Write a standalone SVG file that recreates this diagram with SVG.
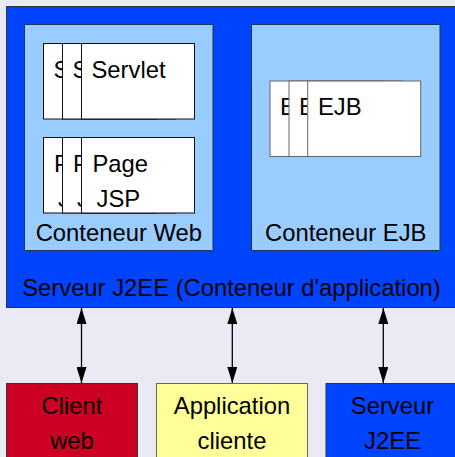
<svg xmlns="http://www.w3.org/2000/svg" width="455" height="457" viewBox="0 0 455 457">
<defs>
<style>
text{font-family:"Liberation Sans",Arial,sans-serif;font-size:23.8px;fill:#000}
.cont{fill:#99ccff;stroke:#223355;stroke-width:1}
.card{fill:#fff;stroke:#111;stroke-width:1}
.ejb{fill:#fff;stroke:#666;stroke-width:1}
.mid{text-anchor:middle}
.conn{stroke:#000;stroke-width:1.3;fill:none;marker-start:url(#ah);marker-end:url(#ah)}
</style>
<marker id="ah" viewBox="0 0 16 10" refX="16" refY="5" markerWidth="16" markerHeight="10" markerUnits="userSpaceOnUse" orient="auto-start-reverse">
<path d="M0,0 L16,5 L0,10 Z" fill="#000"/>
</marker>
<clipPath id="c1"><rect x="43.5" y="43.5" width="19" height="170"/></clipPath>
<clipPath id="c2"><rect x="62.5" y="43.5" width="19" height="170"/></clipPath>
<clipPath id="e1"><rect x="270" y="81" width="19" height="76"/></clipPath>
<clipPath id="e2"><rect x="289" y="81" width="18.7" height="76"/></clipPath>
</defs>
<rect x="0" y="0" width="455" height="457" fill="#eaeaf4"/>
<g id="serveur">
<rect x="6.5" y="6.5" width="460" height="301" fill="#0044ff" stroke="#333" stroke-width="1"/>
<text x="231.5" y="296" class="mid">Serveur J2EE (Conteneur d'application)</text>
</g>
<g id="conteneur-web">
<rect x="24.5" y="24.5" width="188.5" height="226" class="cont"/>
<text x="118.8" y="240.5" class="mid">Conteneur Web</text>
</g>
<g id="servlets">
<rect x="43.5" y="43.5" width="113" height="75.5" class="card"/>
<text x="53.5" y="77.5" clip-path="url(#c1)">Servlet</text>
<rect x="62.5" y="43.5" width="113" height="75.5" class="card"/>
<text x="72.5" y="77.5" clip-path="url(#c2)">Servlet</text>
<rect x="81.5" y="43.5" width="113" height="75.5" class="card"/>
<text x="91.5" y="77.5">Servlet</text>
</g>
<g id="pages-jsp">
<rect x="43.5" y="137.5" width="113" height="75.5" class="card"/>
<text x="54" y="171.5" clip-path="url(#c1)">Page</text>
<text x="58" y="206.5" clip-path="url(#c1)">JSP</text>
<rect x="62.5" y="137.5" width="113" height="75.5" class="card"/>
<text x="73" y="171.5" clip-path="url(#c2)">Page</text>
<text x="77" y="206.5" clip-path="url(#c2)">JSP</text>
<rect x="81.5" y="137.5" width="113" height="75.5" class="card"/>
<text x="92.5" y="171.5">Page</text>
<text x="96.5" y="206.5">JSP</text>
</g>
<g id="conteneur-ejb">
<rect x="251.5" y="24.5" width="188.5" height="226" class="cont"/>
<text x="345.8" y="240.5" class="mid">Conteneur EJB</text>
</g>
<g id="ejbs">
<rect x="270" y="81" width="113" height="75.5" class="ejb"/>
<text x="280" y="115" clip-path="url(#e1)">EJB</text>
<rect x="289" y="81" width="113" height="75.5" class="ejb"/>
<text x="299" y="115" clip-path="url(#e2)">EJB</text>
<rect x="307.7" y="81" width="113" height="75.5" class="ejb"/>
<text x="318" y="115">EJB</text>
</g>
<g id="client-web">
<rect x="6.5" y="383.5" width="131" height="80" fill="#cc0022" stroke="#333" stroke-width="1"/>
<text x="72" y="413.5" class="mid">Client</text>
<text x="72" y="449" class="mid">web</text>
</g>
<g id="application-cliente">
<rect x="156.5" y="383.5" width="151" height="80" fill="#ffff99" stroke="#666" stroke-width="1"/>
<text x="232" y="413.5" class="mid">Application</text>
<text x="232" y="449" class="mid">cliente</text>
</g>
<g id="serveur-j2ee">
<rect x="326" y="383.5" width="133" height="80" fill="#0044ff" stroke="#333" stroke-width="1"/>
<text x="392.5" y="413.5" class="mid">Serveur</text>
<text x="392.5" y="449" class="mid">J2EE</text>
</g>
<g id="connectors">
<line x1="81.5" y1="308" x2="81.5" y2="383" class="conn"/>
<line x1="232.3" y1="308" x2="232.3" y2="383" class="conn"/>
<line x1="383.3" y1="308" x2="383.3" y2="383" class="conn"/>
</g>
</svg>
